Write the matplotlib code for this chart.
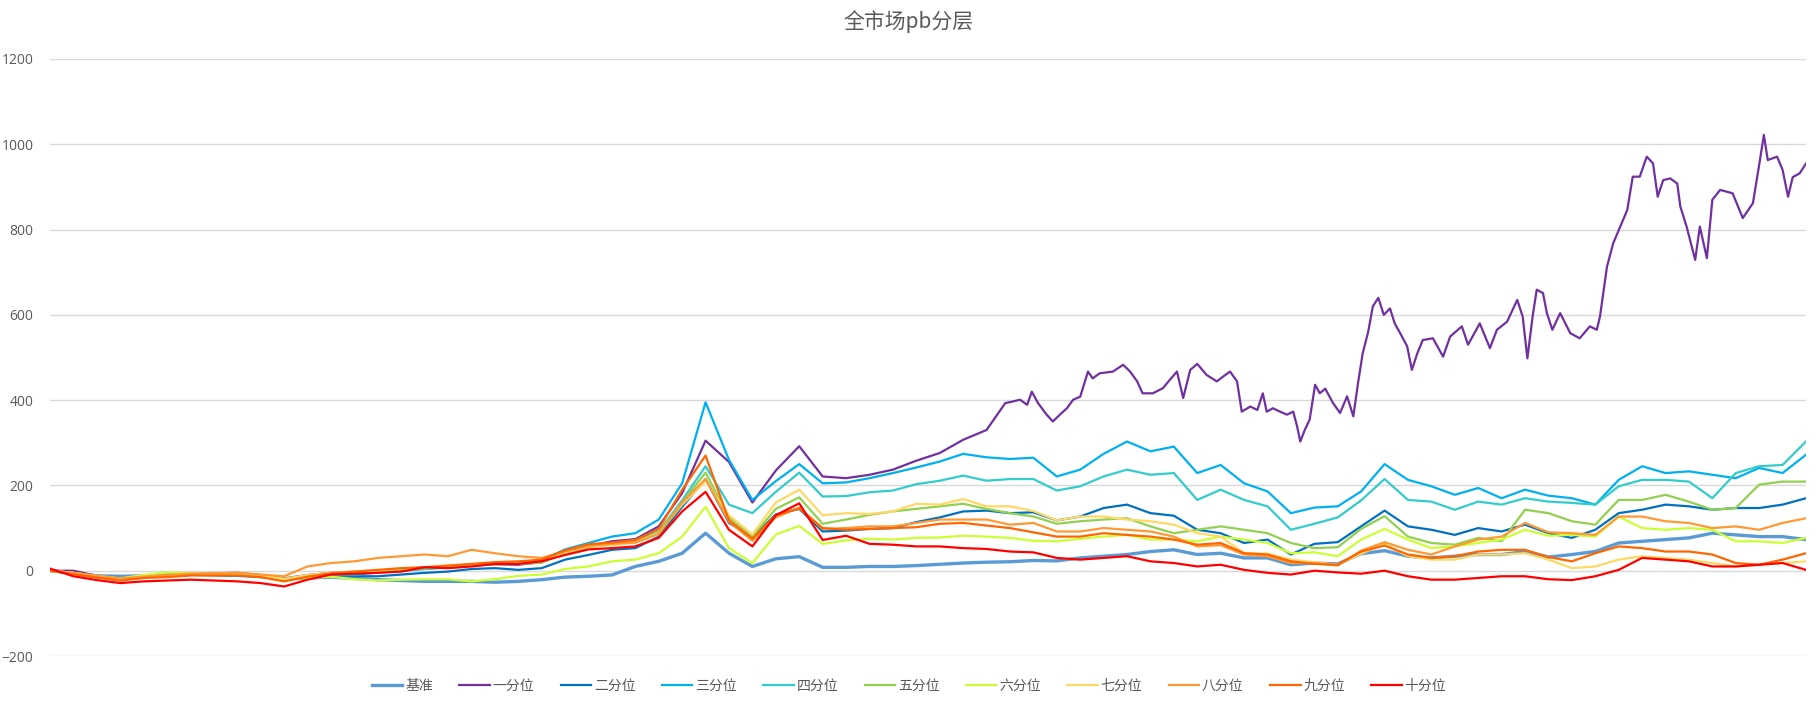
import matplotlib
matplotlib.use("Agg")
import matplotlib.pyplot as plt
import numpy as np

title = "全市场pb分层"
names = ["基准", "一分位", "二分位", "三分位", "四分位", "五分位",
         "六分位", "七分位", "八分位", "九分位", "十分位"]
colors = ["#5B9BD5", "#7030A0", "#0070C0", "#00B0F0", "#33CCCC", "#92D050",
          "#CCFF33", "#FFD966", "#FF9933", "#FF6600", "#FF0000"]

# trading-day positions of the common samples (every 30 days)
days = list(range(0, 2251, 30))

base = [0, -5, -12, -13, -12, -10, -8, -10, -11, -14, -20, -17, -15, -18, -21, -23, -25, -25, -25, -27,
        -25, -21, -15, -13, -10, 10, 22, 41, 88, 41, 10, 28, 33, 8, 8, 10, 10, 12, 15, 18,
        20, 21, 24, 23, 30, 34, 38, 45, 49, 38, 41, 30, 30, 14, 18, 16, 40, 47, 34, 30,
        34, 38, 38, 45, 32, 38, 45, 65, 69, 73, 77, 88, 84, 80, 80, 73]

# 一分位 has its own, denser sample days
q1_days = list(range(0, 1201, 30)) + [
    1224, 1234, 1243, 1252, 1258, 1266, 1277, 1285, 1294, 1303, 1311, 1320, 1330, 1336, 1345,
    1362, 1375, 1384, 1393, 1400, 1413, 1426, 1435, 1444, 1452, 1461, 1470, 1482, 1495, 1503,
    1512, 1521, 1527, 1538, 1547, 1554, 1559, 1567, 1576, 1585, 1593, 1598, 1602, 1608, 1614,
    1621, 1627, 1634, 1644, 1653, 1662, 1670, 1676, 1682, 1689, 1695, 1702, 1709, 1717, 1723,
    1730, 1739, 1745, 1752, 1759, 1772, 1785, 1794, 1809, 1817, 1832, 1845, 1854, 1867, 1880,
    1887, 1893, 1900, 1905, 1913, 1918, 1925, 1935, 1948, 1960, 1973, 1982, 1986, 1995, 2003,
    2012, 2021, 2028, 2037, 2046, 2054, 2060, 2067, 2076, 2085, 2089, 2097, 2108, 2114, 2123,
    2130, 2140, 2156, 2169, 2182, 2191, 2196, 2201, 2213, 2220, 2227, 2233, 2242, 2250]
q1 = [0, 0, -12, -20, -14, -10, -8, -6, -5, -10, -18, -10, -5, -3, 0, 4, 8, 10, 12, 15,
      14, 20, 47, 58, 69, 74, 104, 182, 305, 255, 160, 235, 292, 221, 217, 225, 237, 258, 276, 307,
      330,
      393, 397, 401, 389, 420, 393, 366, 350, 366, 381, 401, 408, 467, 451, 463,
      467, 483, 467, 444, 416, 416, 428, 448, 467, 405, 471, 485, 459, 444, 455,
      467, 444, 373, 385, 377, 416, 373, 381, 373, 366, 373, 338, 303, 331, 354,
      436, 416, 427, 393, 370, 409, 362, 440, 510, 560, 620, 640, 600, 615, 580,
      557, 526, 471, 510, 541, 545, 502, 549, 573, 530, 580, 522, 565, 584, 635,
      596, 498, 600, 659, 651, 604, 565, 604, 557, 545, 573, 565, 596, 713, 768,
      807, 846, 924, 924, 971, 955, 877, 916, 920, 908, 854, 807, 729, 807, 733,
      870, 893, 885, 827, 862, 963, 1022, 963, 971, 940, 877, 923, 932, 955]
q2 = [0, -7, -15, -20, -15, -13, -10, -10, -11, -14, -22, -15, -12, -13, -13, -9, -5, -2, 4, 6,
      2, 6, 26, 37, 49, 53, 80, 150, 215, 112, 78, 132, 145, 92, 94, 98, 100, 114, 125, 139,
      141, 135, 137, 118, 127, 147, 155, 135, 129, 96, 88, 65, 73, 38, 63, 67, 104, 141, 104, 96,
      84, 100, 92, 108, 88, 77, 96, 135, 143, 155, 151, 143, 147, 147, 155, 170]
q3 = [0, -6, -14, -22, -16, -12, -8, -10, -10, -14, -22, -14, -12, -10, -4, 0, 4, 8, 14, 18,
      16, 24, 50, 65, 80, 88, 120, 205, 395, 260, 166, 210, 250, 205, 207, 217, 229, 242, 256, 274,
      266, 262, 265, 221, 237, 274, 303, 280, 291, 229, 248, 205, 186, 135, 148, 151, 186, 250, 213, 198,
      178, 194, 170, 190, 176, 170, 155, 213, 245, 229, 233, 225, 217, 241, 229, 272]
q4 = [0, -7, -15, -21, -15, -13, -9, -9, -9, -13, -21, -13, -9, -6, -3, 0, 4, 8, 12, 16,
      16, 20, 44, 58, 64, 70, 92, 165, 245, 155, 135, 185, 230, 174, 175, 184, 188, 203, 211, 223,
      211, 215, 215, 188, 198, 221, 237, 225, 229, 166, 190, 166, 151, 96, 110, 125, 165, 215, 166, 162,
      143, 162, 155, 170, 162, 159, 155, 198, 213, 213, 209, 170, 229, 245, 248, 303]
q5 = [0, -6, -14, -20, -14, -12, -8, -8, -8, -12, -20, -12, -7, -5, -2, 2, 6, 9, 12, 15,
      16, 19, 42, 55, 62, 68, 90, 160, 230, 125, 80, 145, 172, 110, 120, 131, 139, 145, 151, 157,
      145, 135, 127, 110, 116, 120, 123, 104, 88, 96, 104, 96, 88, 65, 53, 55, 98, 128, 80, 65,
      61, 77, 69, 143, 135, 116, 108, 166, 166, 178, 162, 143, 147, 202, 209, 209]
q6 = [0, -5, -12, -18, -10, -4, -6, -8, -9, -12, -20, -17, -14, -20, -23, -21, -20, -20, -25, -20,
      -12, -9, 4, 10, 22, 26, 41, 80, 150, 53, 18, 85, 105, 63, 71, 75, 73, 77, 78, 82,
      80, 77, 70, 69, 75, 80, 84, 73, 73, 69, 80, 73, 65, 41, 43, 34, 73, 98, 73, 53,
      57, 65, 73, 96, 82, 84, 80, 127, 100, 96, 100, 96, 69, 69, 65, 77]
q7 = [0, -5, -13, -19, -13, -11, -7, -7, -7, -11, -19, -10, -5, -2, 0, 4, 8, 12, 14, 18,
      18, 22, 43, 57, 60, 66, 88, 155, 210, 130, 85, 160, 190, 130, 135, 133, 139, 157, 155, 168,
      151, 151, 140, 118, 127, 127, 120, 116, 108, 88, 80, 41, 40, 26, 20, 14, 40, 63, 34, 26,
      26, 38, 38, 41, 26, 6, 10, 26, 34, 30, 26, 18, 10, 14, 18, 22]
q8 = [0, -5, -12, -18, -14, -10, -7, -6, -5, -9, -13, 10, 18, 22, 30, 34, 38, 34, 49, 41,
      34, 30, 45, 58, 63, 66, 86, 160, 215, 115, 70, 125, 148, 98, 100, 104, 104, 112, 120, 120,
      120, 108, 112, 92, 92, 100, 96, 92, 80, 57, 60, 38, 34, 18, 18, 12, 47, 67, 49, 38,
      57, 73, 80, 112, 90, 88, 84, 127, 127, 116, 112, 100, 104, 96, 112, 123]
q9 = [0, -8, -16, -23, -17, -15, -11, -11, -11, -15, -25, -14, -6, -2, 2, 6, 8, 12, 16, 20,
      22, 26, 48, 62, 66, 72, 98, 190, 270, 118, 75, 130, 146, 100, 96, 98, 100, 102, 110, 112,
      106, 100, 90, 80, 80, 88, 84, 80, 73, 61, 65, 41, 38, 22, 16, 14, 45, 59, 38, 30,
      34, 45, 49, 49, 32, 22, 41, 57, 53, 45, 45, 38, 18, 14, 26, 41]
q10 = [5, -13, -22, -29, -25, -23, -21, -23, -25, -29, -37, -21, -9, -7, -5, -2, 8, 6, 10, 16,
       16, 22, 37, 50, 53, 57, 77, 139, 185, 96, 57, 130, 158, 72, 82, 63, 61, 57, 57, 53,
       51, 45, 43, 30, 26, 30, 34, 22, 18, 10, 14, 2, -5, -9, 0, -4, -7, 0, -13, -21,
       -21, -17, -13, -13, -20, -22, -13, 2, 30, 26, 22, 10, 10, 14, 18, 2]

series_x = [days, q1_days] + [days] * 9
series_y = [base, q1, q2, q3, q4, q5, q6, q7, q8, q9, q10]

plt.rcParams['font.family'] = ['Noto Sans CJK SC', 'DejaVu Sans']
fig = plt.figure(figsize=(18.18, 7.04), dpi=100)
ax = fig.add_axes([50 / 1818, 1 - 656 / 704, (1806 - 50) / 1818, (656 - 59) / 704])

for name, xs, ys, c in zip(names, series_x, series_y, colors):
    lw = 2.4 if name == "基准" else 1.6
    ax.plot(xs, ys, color=c, lw=lw, label=name, solid_joinstyle='round')

ax.set_xlim(days[0], days[-1])
ax.set_ylim(-200, 1200)
ax.set_yticks(np.arange(-200, 1201, 200))
ax.set_xticks([])
ax.grid(axis='y', color='#D9D9D9', lw=1)
ax.set_axisbelow(True)
for s in ax.spines.values():
    s.set_visible(False)
ax.tick_params(axis='y', length=0, pad=12, labelsize=10, labelcolor='#595959')
for lab in ax.get_yticklabels():
    lab.set_fontfamily(['Open Sans', 'DejaVu Sans'])

fig.text(0.5, 1 - 22 / 704, title, ha='center', va='center', fontsize=15, color='#595959')

leg = fig.legend(loc='center', bbox_to_anchor=(0.5, 1 - 686 / 704), ncol=11, frameon=False,
                 fontsize=10, handlelength=2.2, handletextpad=0.2, columnspacing=1.9)
for txt in leg.get_texts():
    txt.set_color('#595959')

fig.savefig("out.png", dpi=100)
